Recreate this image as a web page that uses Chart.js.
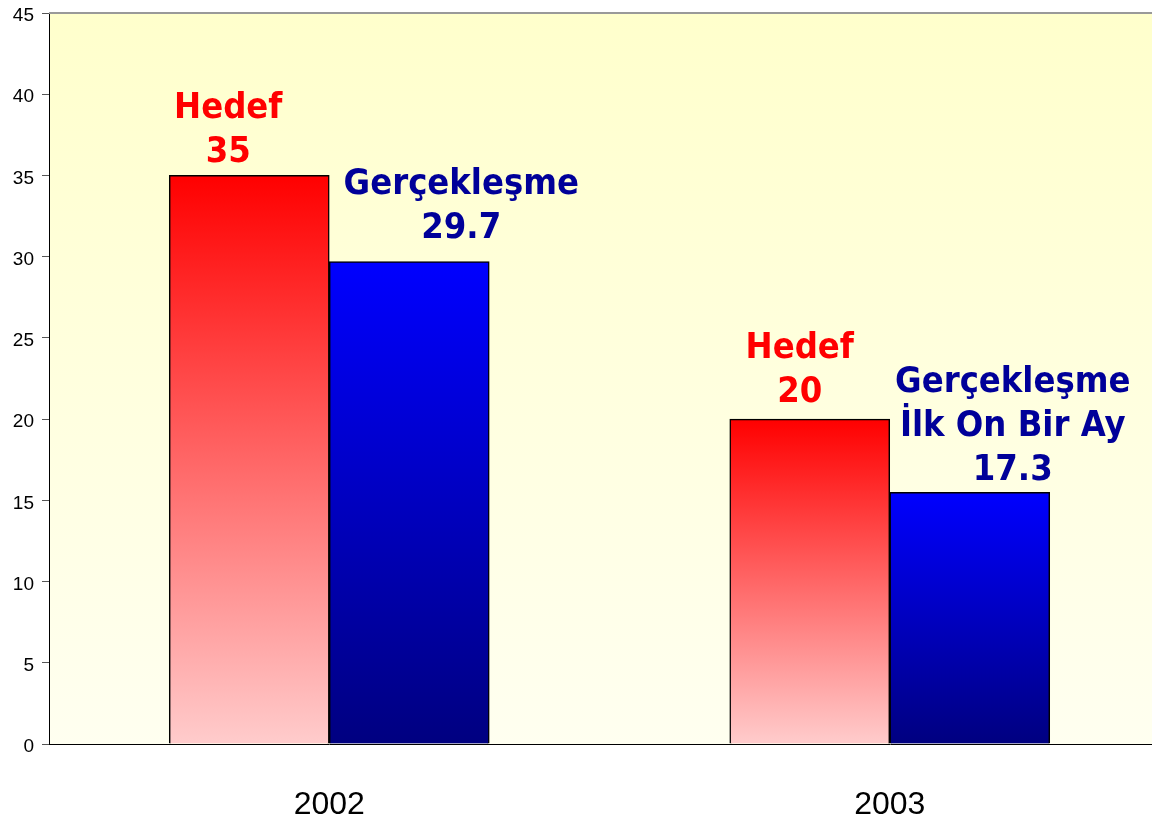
<!DOCTYPE html>
<html>
<head>
<meta charset="utf-8">
<script src="https://cdn.jsdelivr.net/npm/chart.js@4"></script>
<style>
  html, body { margin: 0; padding: 0; background: #ffffff; overflow: hidden; }
  #wrap { position: absolute; left: 0; top: 0; width: 1170px; height: 823px; }
</style>
</head>
<body>
<div id="wrap"><canvas id="c"></canvas></div>
<script>
// ---- data ----
const categories = ['2002', '2003'];
const hedefValues = [35, 20];
const gercekValues = [29.7, 15.5];
const hedefLabels = [['Hedef', '35'], ['Hedef', '20']];
const gercekLabels = [['Gerçekleşme', '29.7'], ['Gerçekleşme', 'İlk On Bir Ay', '17.3']];
const yMin = 0, yMax = 45, yStep = 5;

function barGradient(top, bottom) {
  return function (context) {
    const chart = context.chart;
    const y = chart.scales && chart.scales.y;
    if (!chart.chartArea || !y || context.parsed == null) return top;
    const yTop = y.getPixelForValue(context.parsed.y);
    const yBase = y.getPixelForValue(0);
    const g = chart.ctx.createLinearGradient(0, yTop, 0, yBase);
    g.addColorStop(0, top);
    g.addColorStop(1, bottom);
    return g;
  };
}

const plotBg = {
  id: 'plotBg',
  beforeDraw(chart) {
    const { ctx, chartArea: a } = chart;
    const g = ctx.createLinearGradient(0, a.top, 0, a.bottom);
    g.addColorStop(0, '#FFFFCC');
    g.addColorStop(1, '#FFFFF0');
    ctx.save();
    ctx.fillStyle = g;
    ctx.fillRect(a.left, a.top, a.right - a.left, a.bottom - a.top);
    ctx.restore();
  },
  afterDraw(chart) {
    const { ctx, chartArea: a } = chart;
    ctx.save();
    ctx.strokeStyle = '#999999';
    ctx.lineWidth = 2;
    ctx.beginPath();
    ctx.moveTo(a.left, a.top);
    ctx.lineTo(a.right, a.top);
    ctx.stroke();
    ctx.restore();
  }
};

const barText = {
  id: 'barText',
  afterDatasetsDraw(chart, args, opts) {
    const ctx = chart.ctx;
    ctx.save();
    ctx.font = 'bold 36px "DejaVu Sans Condensed", "DejaVu Sans", sans-serif';
    ctx.textAlign = 'center';
    ctx.textBaseline = 'alphabetic';
    opts.sets.forEach((s, di) => {
      const meta = chart.getDatasetMeta(di);
      meta.data.forEach((el, i) => {
        const lines = s.texts[i];
        const off = s.offsets[i];
        const x = el.x + off.dx;
        let yb = el.y - off.gap;
        ctx.fillStyle = s.color;
        for (let k = lines.length - 1; k >= 0; k--) {
          ctx.fillText(lines[k], x, yb);
          yb -= opts.lineHeight;
        }
      });
    });
    ctx.restore();
  }
};

new Chart(document.getElementById('c'), {
  type: 'bar',
  data: {
    labels: categories,
    datasets: [
      {
        label: 'Hedef',
        data: hedefValues,
        backgroundColor: barGradient('#FF0000', '#FFCCCC'),
        borderColor: '#000000',
        borderWidth: 1.5,
        barThickness: 160
      },
      {
        label: 'Gerçekleşme',
        data: gercekValues,
        backgroundColor: barGradient('#0000FF', '#000080'),
        borderColor: '#000000',
        borderWidth: 1.5,
        barThickness: 160
      }
    ]
  },
  options: {
    responsive: true,
    maintainAspectRatio: false,
    animation: false,
    layout: { padding: { top: 13, left: 0, right: 0, bottom: 0 } },
    plugins: {
      legend: { display: false },
      tooltip: { enabled: false },
      barText: {
        lineHeight: 44,
        sets: [
          { color: '#FF0000', texts: hedefLabels, offsets: [{ dx: -21, gap: 13 }, { dx: -10, gap: 17 }] },
          { color: '#000099', texts: gercekLabels, offsets: [{ dx: 52, gap: 24 }, { dx: 43, gap: 12 }] }
        ]
      }
    },
    scales: {
      x: {
        grid: { display: false },
        border: { display: true, color: '#000000', width: 1 },
        ticks: {
          color: '#000000',
          padding: 34,
          font: { family: '"Liberation Sans Narrow", "Liberation Sans", Arial, sans-serif', size: 32 }
        },
        afterFit(scale) { scale.height = 79; scale.paddingLeft = 0; scale.paddingRight = 0; }
      },
      y: {
        min: yMin,
        max: yMax,
        grid: { display: true, drawOnChartArea: false, drawTicks: true, tickLength: 7, color: '#555555' },
        border: { display: true, color: '#000000', width: 1 },
        ticks: {
          stepSize: yStep,
          color: '#000000',
          padding: 8,
          labelOffset: 3,
          font: { family: '"Liberation Sans", Arial, sans-serif', size: 19 }
        },
        afterFit(scale) { scale.width = 49; scale.paddingTop = 0; scale.paddingBottom = 0; }
      }
    }
  },
  plugins: [plotBg, barText]
});
</script>
</body>
</html>
